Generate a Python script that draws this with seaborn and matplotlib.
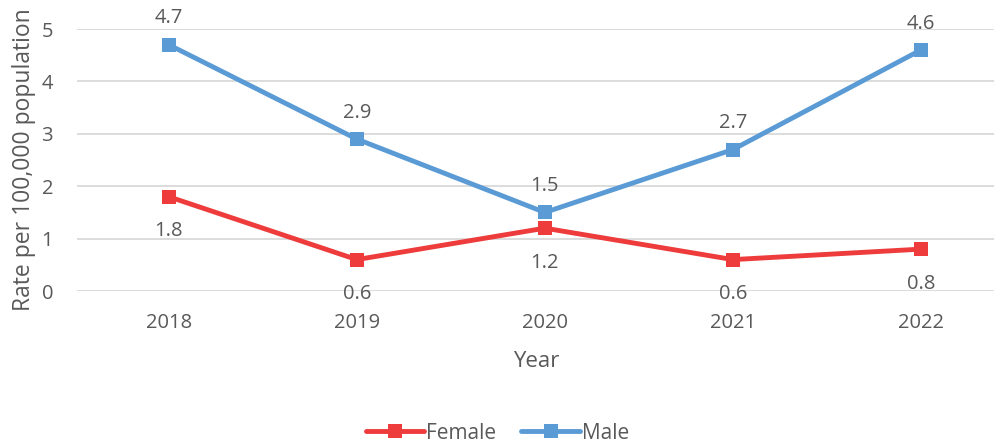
import matplotlib
matplotlib.use("Agg")
import matplotlib.pyplot as plt
import seaborn as sns
import pandas as pd

years = ["2018", "2019", "2020", "2021", "2022"]
female = [1.8, 0.6, 1.2, 0.6, 0.8]
male = [4.7, 2.9, 1.5, 2.7, 4.6]

sns.set_theme(style="white")
plt.rcParams["font.family"] = ["Open Sans", "DejaVu Sans"]

text_color = "#595959"
colors = {"Female": "#EE3B3B", "Male": "#5B9BD5"}

df = pd.DataFrame({
    "Year": years * 2,
    "Rate": female + male,
    "Sex": ["Female"] * len(years) + ["Male"] * len(years),
})

fig = plt.figure(figsize=(9.95, 4.43), dpi=100)
ax = fig.add_axes([0.077, 0.343, 0.923, 0.5915])

sns.lineplot(
    data=df,
    x="Year",
    y="Rate",
    hue="Sex",
    palette=colors,
    marker="s",
    markersize=10,
    markeredgewidth=0,
    linewidth=3.5,
    ax=ax,
    legend=False,
)

# data labels
for i, v in enumerate(female):
    ax.annotate(f"{v}", (i, v), xytext=(0, -25), textcoords="offset points",
                ha="center", va="center", fontsize=14.5, color=text_color)
for i, v in enumerate(male):
    ax.annotate(f"{v}", (i, v), xytext=(0, 19), textcoords="offset points",
                ha="center", va="center", fontsize=14.5, color=text_color)

ax.set_ylim(0, 5)
ax.set_xlim(-0.49, 4.394)
ax.set_yticks(range(6))
ax.yaxis.grid(True, color="#D9D9D9", linewidth=1.3)
for side in ["top", "right", "left", "bottom"]:
    ax.spines[side].set_visible(False)

ax.tick_params(axis="both", colors=text_color, labelsize=14.5, length=0)
ax.tick_params(axis="x", pad=16)
ax.tick_params(axis="y", pad=17)

ax.set_xlabel("Year", fontsize=16, color=text_color, labelpad=13)
ax.set_ylabel("Rate per 100,000 population", fontsize=16.5, color=text_color, labelpad=4)

handles = [
    plt.Line2D([], [], color=colors[s], linewidth=3.5, marker="s", markersize=10,
               markeredgewidth=0)
    for s in ["Female", "Male"]
]
fig.legend(handles, ["Female", "Male"], loc="center", bbox_to_anchor=(0.5, 0.022),
           ncol=2, frameon=False, fontsize=15, labelcolor=text_color,
           handlelength=2.8, handletextpad=0.1, columnspacing=1.2)

plt.savefig("out.png", dpi=100)
plt.close()
